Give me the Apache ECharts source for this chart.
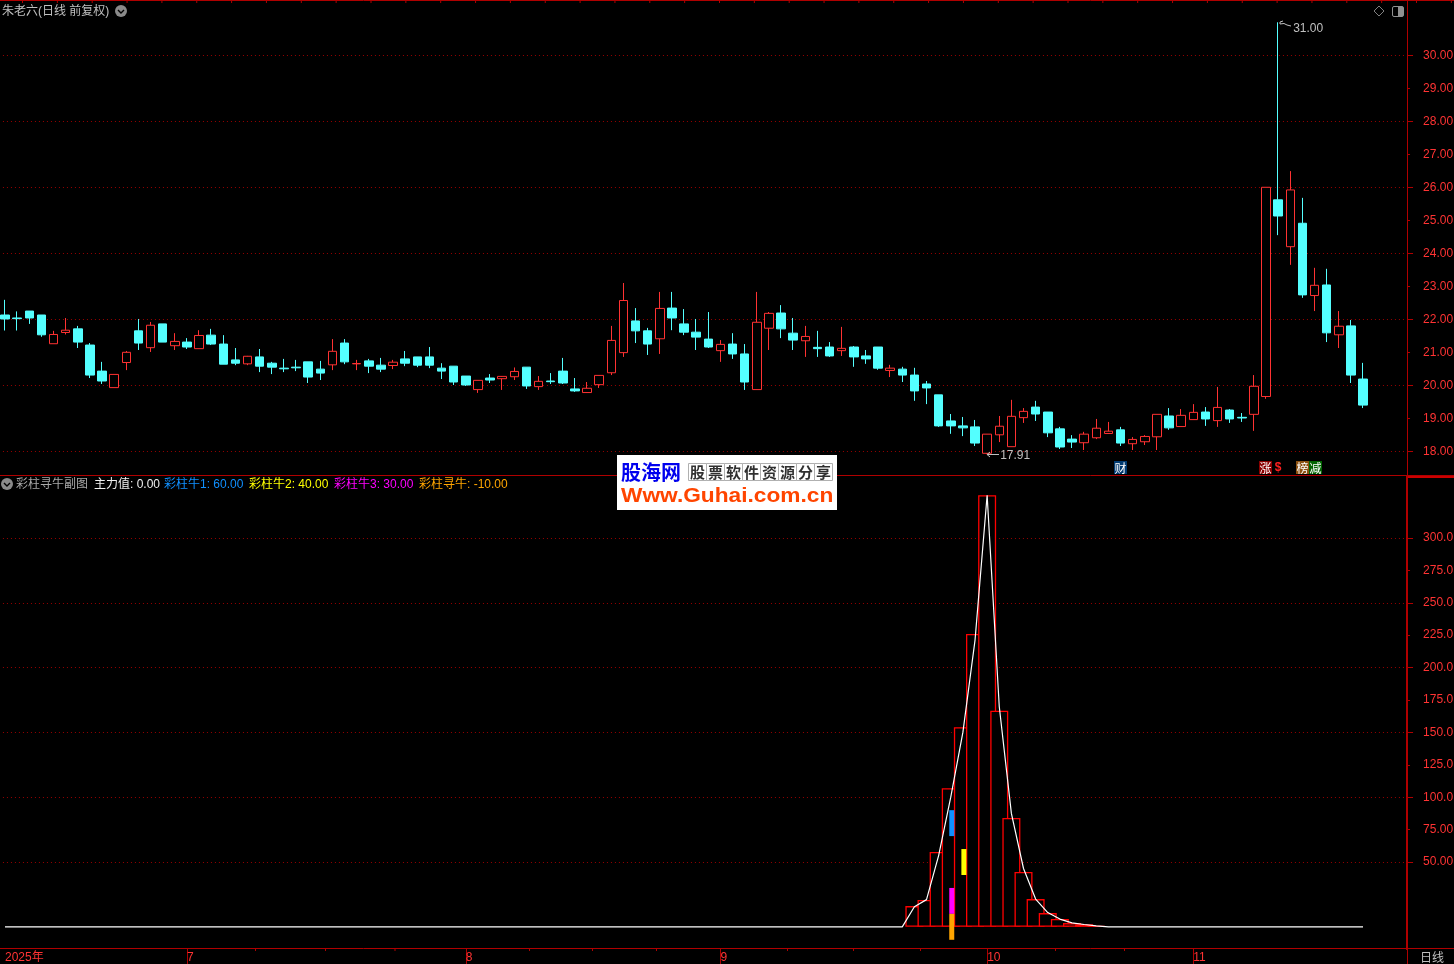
<!DOCTYPE html>
<html><head><meta charset="utf-8">
<script src="https://cdn.jsdelivr.net/npm/echarts@6/dist/echarts.min.js"></script>
<style>html,body{margin:0;padding:0;background:#000;overflow:hidden}#c{width:1454px;height:964px}</style>
</head><body><div id="c"></div>
<script>
// [open, close, low, high]
const candles = [
[22.13,22.01,21.66,22.59],[22.04,22.02,21.66,22.24],[22.25,22.04,21.86,22.25],[22.13,21.53,21.47,22.13],[21.26,21.54,21.26,21.65],
[21.60,21.67,21.54,22.04],[21.71,21.31,21.13,21.80],[21.22,20.31,20.22,21.28],[20.43,20.13,20.04,20.71],[19.93,20.33,19.93,20.33],
[20.69,21.00,20.46,21.04],[21.65,21.28,21.07,22.01],[21.14,21.82,21.01,21.92],[21.86,21.31,21.31,21.86],[21.20,21.33,21.07,21.58],
[21.31,21.16,21.10,21.43],[21.11,21.51,21.11,21.67],[21.52,21.25,21.22,21.71],[21.25,20.64,20.64,21.52],[20.77,20.67,20.61,21.13],
[20.65,20.88,20.61,20.89],[20.86,20.58,20.40,21.10],[20.67,20.55,20.34,20.71],[20.52,20.50,20.40,20.80],[20.55,20.53,20.43,20.77],
[20.71,20.25,20.07,20.71],[20.49,20.37,20.16,20.74],[20.62,21.03,20.46,21.40],[21.28,20.71,20.64,21.40],[20.65,20.66,20.46,20.77],
[20.74,20.58,20.37,20.80],[20.61,20.49,20.40,20.83],[20.60,20.70,20.49,20.77],[20.80,20.67,20.58,21.04],[20.86,20.61,20.55,20.86],
[20.86,20.61,20.52,21.16],[20.52,20.43,20.19,20.67],[20.58,20.10,20.01,20.58],[20.28,20.01,19.98,20.28],[19.87,20.15,19.77,20.15],
[20.22,20.16,20.07,20.34],[20.20,20.27,19.86,20.28],[20.26,20.42,20.16,20.54],[20.55,19.98,19.89,20.55],[19.96,20.12,19.86,20.28],
[20.13,20.11,20.04,20.37],[20.43,20.07,20.04,20.83],[19.89,19.83,19.80,20.22],[19.78,19.91,19.77,20.10],[20.02,20.30,19.92,20.30],
[20.38,21.36,20.31,21.80],[20.99,22.57,20.86,23.10],[21.95,21.65,21.28,22.34],[21.65,21.25,20.92,21.74],[21.41,22.33,20.95,22.83],
[22.34,22.04,21.67,22.83],[21.86,21.61,21.52,22.31],[21.61,21.46,21.07,22.01],[21.40,21.16,21.13,22.22],[21.05,21.24,20.71,21.37],
[21.25,20.95,20.80,21.58],[20.95,20.10,19.86,21.25],[19.87,21.91,19.87,22.83],[21.73,22.18,21.07,22.22],[22.19,21.71,21.43,22.43],
[21.58,21.37,21.07,22.04],[21.35,21.48,20.86,21.80],[21.15,21.11,20.86,21.65],[21.16,20.89,20.86,21.31],[21.05,21.12,20.89,21.77],
[21.16,20.86,20.56,21.19],[20.89,20.80,20.65,21.07],[21.16,20.52,20.47,21.16],[20.45,20.52,20.25,20.62],[20.49,20.31,20.10,20.56],
[20.31,19.83,19.53,20.53],[20.04,19.92,19.43,20.13],[19.71,18.77,18.74,19.71],[18.92,18.77,18.53,19.13],[18.77,18.71,18.46,19.04],
[18.74,18.25,18.16,18.95],[17.94,18.52,17.91,18.52],[18.50,18.76,18.28,19.07],[18.14,19.06,18.14,19.56],[19.02,19.21,18.86,19.31],
[19.34,19.13,18.92,19.53],[19.19,18.56,18.43,19.19],[18.68,18.13,18.07,18.74],[18.37,18.28,18.10,18.49],[18.26,18.52,18.04,18.59],
[18.41,18.70,18.37,18.98],[18.54,18.61,18.53,18.89],[18.65,18.25,18.16,18.74],[18.23,18.36,18.04,18.43],[18.29,18.45,18.19,18.49],
[18.44,19.12,18.04,19.12],[19.07,18.71,18.65,19.31],[18.75,19.09,18.75,19.28],[18.96,19.18,18.96,19.43],[19.19,18.98,18.77,19.34],
[18.93,19.33,18.74,19.95],[19.25,18.98,18.86,19.28],[19.03,19.01,18.89,19.16],[19.12,19.97,18.62,20.31],[19.66,26.00,19.59,26.00],
[25.62,25.13,24.55,31.00],[24.20,25.92,23.65,26.49],[24.91,22.74,22.65,25.68],[22.72,23.03,22.25,23.56],[23.04,21.59,21.31,23.53],
[21.53,21.79,21.13,22.25],[21.80,20.31,20.07,21.98],[20.19,19.40,19.31,20.68]
];
// month labels by bar index, blank elsewhere
const monthLabels = {0:'2025年',15:'7',38:'8',59:'9',81:'10',98:'11'};
const categoryCount = 116;
// red hollow bars (bar index, value)
const histValues = [[75,16],[76,20.7],[77,57.7],[78,107],[79,154],[80,226],[81,333],[82,166.7],[83,84],[84,42.3],[85,21.4],[86,10.6],[87,6],[88,2.9],[89,2],[90,0.7]];
// white line, one value per bar
const lineValues = [
0,0,0,0,0,0,0,0,0,0,0,0,0,0,0,0,0,0,0,0,0,0,0,0,0,
0,0,0,0,0,0,0,0,0,0,0,0,0,0,0,0,0,0,0,0,0,0,0,0,0,
0,0,0,0,0,0,0,0,0,0,0,0,0,0,0,0,0,0,0,0,0,0,0,0,0,
15.5,21,55,100,150,221,333,170,87.5,45,21.4,11,6,3,1.8,0.8,
0,0,0,0,0,0,0,0,0,0,0,0,0,0,0,0,0,0,0,0,0,0];
// coloured sticks: [bar index, low, high, colour]
const sticks = [[78,70,90,'#1090ff'],[79,40,60,'#ffff00'],[78,10,30,'#ff00ff'],[78,-10,10,'#ffa500']];
const priceMajor = [18,20,22,24,26,28,30];
const priceMinor = [19,21,23,25,27,29];
const indMajor = [50,100,150,200,250,300];
const indMinor = [75,125,175,225,275];
const indLabels = {50:'50.00',75:'75.00',100:'100.0',125:'125.0',150:'150.0',175:'175.0',200:'200.0',225:'225.0',250:'250.0',275:'275.0',300:'300.0'};
const priceHigh = 31.00, priceLow = 17.91;
const legendItems = [
 ['彩柱寻牛副图',16,'#a8a8a8'],['主力值: 0.00',94,'#f0f0f0'],['彩柱牛1: 60.00',164,'#1090ff'],
 ['彩柱牛2: 40.00',249,'#ffff00'],['彩柱牛3: 30.00',334,'#ff00ff'],['彩柱寻牛: -10.00',419,'#ffa500']];
const logoCells = ['股','票','软','件','资','源','分','享'];

const FONT = "'Liberation Sans','Noto Sans CJK SC',sans-serif";
const CJK = "'Noto Sans CJK SC',sans-serif";
const AXIS = '#b00000', LBL = '#ff3333', CYAN = '#54ffff', UP = '#ff3232', DOT = '#980000', GRAY = '#c0c0c0';
const categories = Array.from({length:categoryCount},(_,i)=>monthLabels[i]||'');

const g = [];
const line = (x1,y1,x2,y2,c,w)=>g.push({type:'line',silent:true,z:20,shape:{x1,y1,x2,y2},style:{stroke:c,lineWidth:w||1}});
const text = (t,x,y,c,o)=>g.push(Object.assign({type:'text',silent:true,z:21,x,y,style:Object.assign({text:t,fill:c,font:'12px '+FONT,textVerticalAlign:'middle'},o||{})}));
const chev = (cx,cy)=>{
  g.push({type:'circle',silent:true,z:21,shape:{cx,cy,r:6},style:{fill:'#8a8a8a'}});
  g.push({type:'polyline',silent:true,z:22,shape:{points:[[cx-3,cy-1],[cx,cy+2],[cx+3,cy-1]]},style:{stroke:'#000',fill:null,lineWidth:1.4}});
};
// frame
line(0,0.5,1454,0.5,AXIS);
for(let x=22.5;x<1454;x+=34.85) line(x,0,x,3,AXIS);
line(0,475.5,1454,475.5,AXIS);
line(1408,477,1454,477,'#cc0000',2);
line(0,948.5,1454,948.5,AXIS);
line(1407.5,949,1407.5,964,AXIS);
// minor ticks of the time ruler
[255,325,394.5, 529,592,656, 787,853,920, 1055,1124].forEach(x=>line(x+.5,949,x+.5,951,AXIS));
// top labels
text('朱老六(日线 前复权)',2,11.5,GRAY);
chev(121,11);
g.push({type:'polygon',silent:true,z:21,shape:{points:[[1379,6],[1384,11],[1379,16],[1374,11]]},style:{fill:null,stroke:'#808080',lineWidth:1}});
g.push({type:'rect',silent:true,z:21,shape:{x:1392.5,y:6.5,width:11,height:10,r:1.5},style:{fill:null,stroke:'#909090',lineWidth:1}});
g.push({type:'rect',silent:true,z:21,shape:{x:1398,y:7,width:5,height:9},style:{fill:'#909090'}});
// lower legend
chev(7,484);
legendItems.forEach(it=>text(it[0],it[1],485,it[2]));
// high / low pointers
g.push({type:'polyline',silent:true,z:21,shape:{points:[[1283,21],[1280,22],[1280,24],[1284,23.5],[1287,25],[1291,26]]},style:{stroke:GRAY,fill:null,lineWidth:1}});
g.push({type:'polyline',silent:true,z:21,shape:{points:[[990,452],[987,454.5],[990,457]]},style:{stroke:GRAY,fill:null,lineWidth:1}});
line(987,454.5,999,454.5,GRAY);
// info badges
const badge=(t,x,bg)=>{g.push({type:'rect',silent:true,z:21,shape:{x,y:461,width:13,height:13},style:{fill:bg}});
  text(t,x+6.5,468,'#ffffff',{font:'12px '+CJK,textAlign:'center'});};
badge('财',1114,'#003a70');badge('涨',1259,'#8b0000');badge('榜',1296,'#8b5010');badge('减',1309,'#006400');
text('$',1278,468,'#ff2020',{font:'bold 12px '+FONT,textAlign:'center'});
// bottom right
text('日线',1432,957,GRAY,{font:'12px '+CJK,textAlign:'center'});
// watermark logo
g.push({type:'rect',silent:true,z:30,shape:{x:617,y:455,width:220,height:55},style:{fill:'#fff'}});
text('股海网',621,472,'#0000ee',{font:'bold 20px '+CJK});g[g.length-1].z=31;
logoCells.forEach((c,i)=>{
  g.push({type:'rect',silent:true,z:31,shape:{x:688.5+i*18,y:463.5,width:18,height:17},style:{fill:null,stroke:'#b0b0b0',lineWidth:1}});
  text(c,688.5+i*18+9,472,'#303030',{font:'bold 15px '+CJK,textAlign:'center'});g[g.length-1].z=32;
});
text('Www.Guhai.com.cn',621,496,'#ff4500',{font:'bold 20px '+FONT});g[g.length-1].z=31;g[g.length-1].scaleX=1.135;

const grids = [
 {left:-1.06,top:1,width:1406.5,height:474,outerBoundsMode:'none'},
 {left:-1.06,top:476,width:1406.5,height:473,outerBoundsMode:'none'}
];
const yCommon = {type:'value',position:'right',offset:1.6,scale:true};
const yAxis = (gi,min,max,vals,len,split,thick,fmt)=>Object.assign({},yCommon,{
  gridIndex:gi,min,max,
  axisLine:{show:true,onZero:false,lineStyle:{color:AXIS,width:thick}},
  axisTick:{show:true,length:len,lineStyle:{color:AXIS},customValues:vals},
  axisLabel:{show:true,margin:16,color:LBL,fontFamily:FONT,fontSize:12,customValues:vals,formatter:fmt,align:'left',padding:[2,0,0,0]},
  splitLine:{show:split,lineStyle:{color:DOT,type:[1,3],width:1}}
});
const pf=v=>v.toFixed(2), inf=v=>indLabels[v]||'';
const P0=17.282,P1=31.645,I0=-17.1,I1=347.8;

const option = {
 backgroundColor:'#000',animation:false,
 grid:grids,
 xAxis:[
  {type:'category',gridIndex:0,data:categories,boundaryGap:true,axisLine:{show:false,onZero:false},axisTick:{show:false},axisLabel:{show:false},splitLine:{show:false}},
  {type:'category',gridIndex:1,data:categories,boundaryGap:true,position:'bottom',
   axisLine:{show:false,onZero:false},
   axisTick:{show:true,length:15,alignWithLabel:true,lineStyle:{color:AXIS},interval:(i)=>i>0&&!!monthLabels[i]},
   axisLabel:{show:true,interval:(i)=>!!monthLabels[i],color:LBL,fontFamily:FONT,fontSize:12,align:'left',margin:3,padding:[0,0,0,0]},
   splitLine:{show:false}}
 ],
 yAxis:[
  yAxis(0,P0,P1,priceMajor,6,true,1,pf),
  yAxis(0,P0,P1,priceMinor,3,false,1,pf),
  yAxis(1,I0,I1,indMajor,6,true,2,inf),
  yAxis(1,I0,I1,indMinor,3,false,2,inf)
 ],
 graphic:{elements:g},
 series:[
  {type:'candlestick',xAxisIndex:0,yAxisIndex:0,data:candles.map(c=>[c[0],c[1],c[2],c[3]]),barWidth:9,
   itemStyle:{color:'#000',color0:CYAN,borderColor:UP,borderColor0:CYAN,borderColorDoji:CYAN,borderWidth:1},
   markPoint:{symbol:'circle',symbolSize:0,silent:true,
     label:{show:true,position:'right',color:GRAY,fontFamily:FONT,fontSize:12,formatter:p=>p.value.toFixed(2)},
     data:[
      {coord:[105,priceHigh],value:priceHigh,label:{offset:[10,6]}},
      {coord:[81,priceLow],value:priceLow,label:{offset:[8,1]}}
     ]}},
  {type:'bar',xAxisIndex:1,yAxisIndex:2,barWidth:18,data:histValues.map(v=>({value:v})),
   itemStyle:{color:'#000',borderColor:'#ff0000',borderWidth:1.3},z:3},
  {type:'custom',xAxisIndex:1,yAxisIndex:2,z:4,clip:false,data:sticks.map(s=>[s[0],s[1],s[2],s[3]]),
   encode:{x:0,y:[1,2]},
   renderItem:(p,api)=>{
     const a=api.coord([api.value(0),api.value(1)]),b=api.coord([api.value(0),api.value(2)]);
     return {type:'rect',shape:{x:a[0]-1.5,y:b[1],width:5,height:a[1]-b[1]},style:{fill:sticks[p.dataIndex][3]}};
   }},
  {type:'line',xAxisIndex:1,yAxisIndex:2,data:lineValues,showSymbol:false,symbol:'none',smooth:false,z:5,
   lineStyle:{color:'#ffffff',width:1.2},emphasis:{disabled:true}}
 ]
};
const chart = echarts.init(document.getElementById('c'),null,{renderer:'canvas',width:1454,height:964});
chart.setOption(option);
</script></body></html>
